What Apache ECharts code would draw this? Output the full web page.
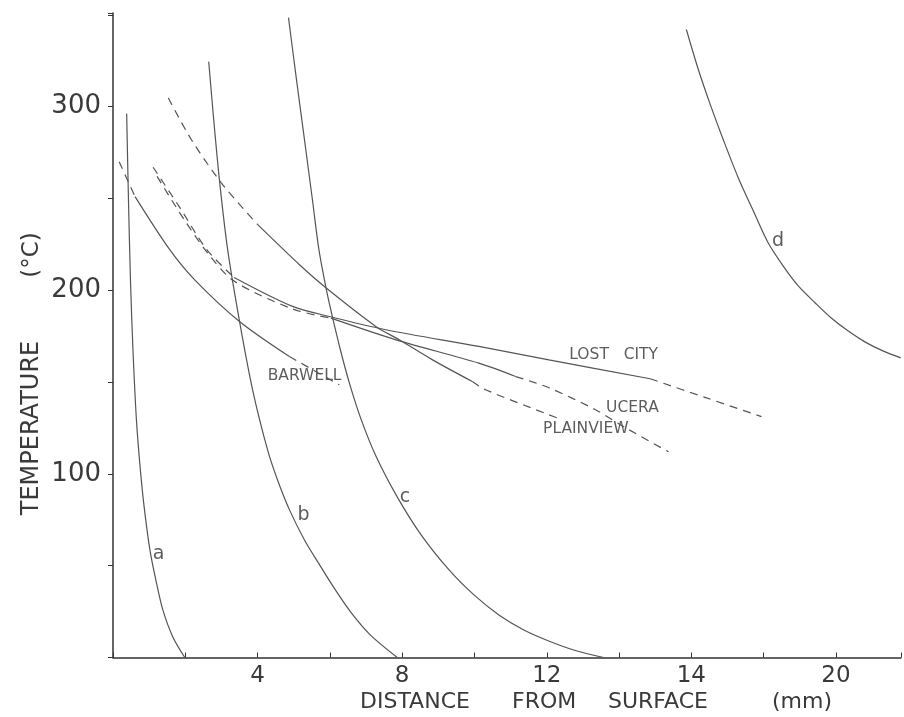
<!DOCTYPE html>
<html><head><meta charset="utf-8">
<script src="https://cdn.jsdelivr.net/npm/echarts@6/dist/echarts.min.js"></script>
<style>html,body{margin:0;padding:0;background:#fff}#c{width:904px;height:717px}</style>
</head><body><div id="c"></div>
<script>
// Tick labels (as printed in the original figure)
const xTickLabels = {4:'4', 8:'8', 12:'12', 16:'14', 20:'20'};
const yTickLabels = {100:'100', 200:'200', 300:'300'};

// Calculated curves a–d  [distance mm, temperature °C]
const curveA = [[0.378,296.2],[0.428,249.3],[0.483,205.7],[0.552,167.6],[0.648,129.4],[0.745,104.9],[0.855,83.1],[1.021,58.6],[1.186,42.2],[1.379,25.9],[1.655,11.2],[1.986,0]];
const curveB = [[2.648,324.5],[2.786,292.9],[2.952,258.6],[3.172,222.1],[3.503,182.8],[3.862,145.8],[4.276,113.1],[4.552,96.7],[4.883,80.4],[5.297,64.0],[5.683,51.5],[6.152,36.8],[6.593,24.3],[7.117,12.3],[7.862,0]];
const curveC = [[4.855,348.5],[5.076,314.7],[5.297,282.0],[5.517,249.3],[5.697,222.1],[5.903,200.3],[6.069,185.6],[6.290,167.6],[6.538,149.6],[6.869,129.4],[7.283,109.3],[7.862,87.5],[8.524,66.8],[9.297,47.7],[9.986,34.1],[10.676,23.2],[11.366,15.0],[12.055,9.0],[12.745,4.1],[13.572,0]];
const curveD = [[15.862,342.0],[16.193,320.2],[16.524,301.1],[16.883,282.0],[17.297,261.3],[17.738,242.2],[18.124,225.9],[18.538,213.3],[18.952,202.5],[19.421,193.2],[19.862,185.0],[20.331,177.9],[20.800,171.9],[21.297,167.0],[21.793,163.2]];

// Meteorite profiles: dashed (extrapolated) / solid (measured) segments
const barwellDashStart = [[0.17,270],[0.61,251]];
const barwellSolid     = [[0.61,251],[1.57,222.1],[2.26,205.7],[3.50,183],[4.88,163.9]];
const barwellDashEnd   = [[4.88,163.9],[6.26,148.5]];

const plainviewDashStart = [[1.53,304.7],[2.17,282],[3.00,258.4],[3.99,236]];
const plainviewSolid     = [[3.99,236],[5.16,213.9],[5.90,201.2],[7.27,180.3],[7.92,173],[8.84,162.1],[9.94,150.3]];
const plainviewDashEnd   = [[9.94,150.3],[10.31,145.8],[12.06,132.2],[12.35,130]];

const lostCityDashStart = [[1.11,267],[1.85,245],[2.6,222],[3.35,207]];
const lostCitySolid     = [[3.35,207],[4.97,191.2],[5.99,185.7],[7.55,178.5],[10.12,169.4],[12.06,162.1],[14.86,151.8]];
const lostCityDashEnd   = [[14.86,151.8],[16.4,141.5],[17.94,131.2]];

const uceraDashStart = [[1.22,262],[1.95,239],[2.65,219.5],[3.35,205],[4.97,189.8],[6.03,184.8]];
const uceraSolid     = [[6.03,184.8],[7.83,173],[10.12,160.3],[11.14,153]];
const uceraDashEnd   = [[11.14,153],[12.06,146.9],[13.35,134.9],[14.18,125.1],[15.37,112]];

// Curve annotations
const curveLetters = [
  {name:'a', value:[1.26,56.4]}, {name:'b', value:[5.27,77.7]},
  {name:'c', value:[8.08,87.5]}, {name:'d', value:[18.40,227]}
];
const profileNames = [
  {name:'BARWELL', value:[5.30,153.4]}, {name:'LOST   CITY', value:[13.85,164.9]},
  {name:'UCERA', value:[14.37,136.0]}, {name:'PLAINVIEW', value:[13.08,124.5]}
];

const FONT = 'DejaVu Sans';
const LINE = '#555';
function line(name, data, dashed) {
  return {
    type:'line', name, data, showSymbol:false, smooth:0.3, silent:true,
    lineStyle:{color:LINE, width:1.2, type: dashed ? [8,6] : 'solid'}
  };
}
function labels(name, data, size) {
  return {
    type:'scatter', name, data, symbolSize:0, silent:true,
    label:{show:true, position:'inside', formatter:p => p.name, fontFamily:FONT, color:'#333', fontSize:size}
  };
}

const chart = echarts.init(document.getElementById('c'), null, {renderer:'canvas'});
chart.setOption({
  animation:false,
  backgroundColor:'#fff',
  grid:{left:113, right:0, top:13, bottom:59.5},
  xAxis:{
    type:'value', min:0, max:21.8, interval:2,
    axisLine:{show:true, lineStyle:{color:'#333', width:1.5}},
    axisTick:{show:true, inside:true, length:5, lineStyle:{color:'#333'}},
    splitLine:{show:false},
    axisLabel:{margin:7, fontFamily:FONT, fontSize:23, color:'#3a3a3a',
      formatter:v => xTickLabels[v] || ''}
  },
  yAxis:{
    type:'value', min:0, max:351, interval:50,
    axisLine:{show:true, lineStyle:{color:'#333', width:1.5}},
    axisTick:{show:true, length:5, lineStyle:{color:'#333'}},
    splitLine:{show:false},
    axisLabel:{margin:12, fontFamily:FONT, fontSize:26, color:'#3a3a3a',
      formatter:v => yTickLabels[v] || ''}
  },
  graphic:[
    {type:'text', left:360, top:691, style:{text:'DISTANCE', font:'22px "DejaVu Sans"', fill:'#3a3a3a'}},
    {type:'text', left:512, top:691, style:{text:'FROM', font:'22px "DejaVu Sans"', fill:'#3a3a3a'}},
    {type:'text', left:608, top:691, style:{text:'SURFACE', font:'22px "DejaVu Sans"', fill:'#3a3a3a'}},
    {type:'text', left:772, top:691, style:{text:'(mm)', font:'22px "DejaVu Sans"', fill:'#3a3a3a'}},
    {type:'text', x:32, y:428, rotation:Math.PI/2, style:{text:'TEMPERATURE', font:'24px "DejaVu Sans"', fill:'#3a3a3a', textAlign:'center', textVerticalAlign:'middle'}},
    {type:'text', x:32, y:255, rotation:Math.PI/2, style:{text:'(°C)', font:'23px "DejaVu Sans"', fill:'#3a3a3a', textAlign:'center', textVerticalAlign:'middle'}}
  ],
  series:[
    line('a', curveA), line('b', curveB), line('c', curveC), line('d', curveD),
    line('BARWELL', barwellDashStart, true), line('BARWELL', barwellSolid), line('BARWELL', barwellDashEnd, true),
    line('PLAINVIEW', plainviewDashStart, true), line('PLAINVIEW', plainviewSolid), line('PLAINVIEW', plainviewDashEnd, true),
    line('LOST CITY', lostCityDashStart, true), line('LOST CITY', lostCitySolid), line('LOST CITY', lostCityDashEnd, true),
    line('UCERA', uceraDashStart, true), line('UCERA', uceraSolid), line('UCERA', uceraDashEnd, true),
    labels('curve letters', curveLetters, 19),
    labels('profile names', profileNames, 15.5)
  ]
});
</script></body></html>
